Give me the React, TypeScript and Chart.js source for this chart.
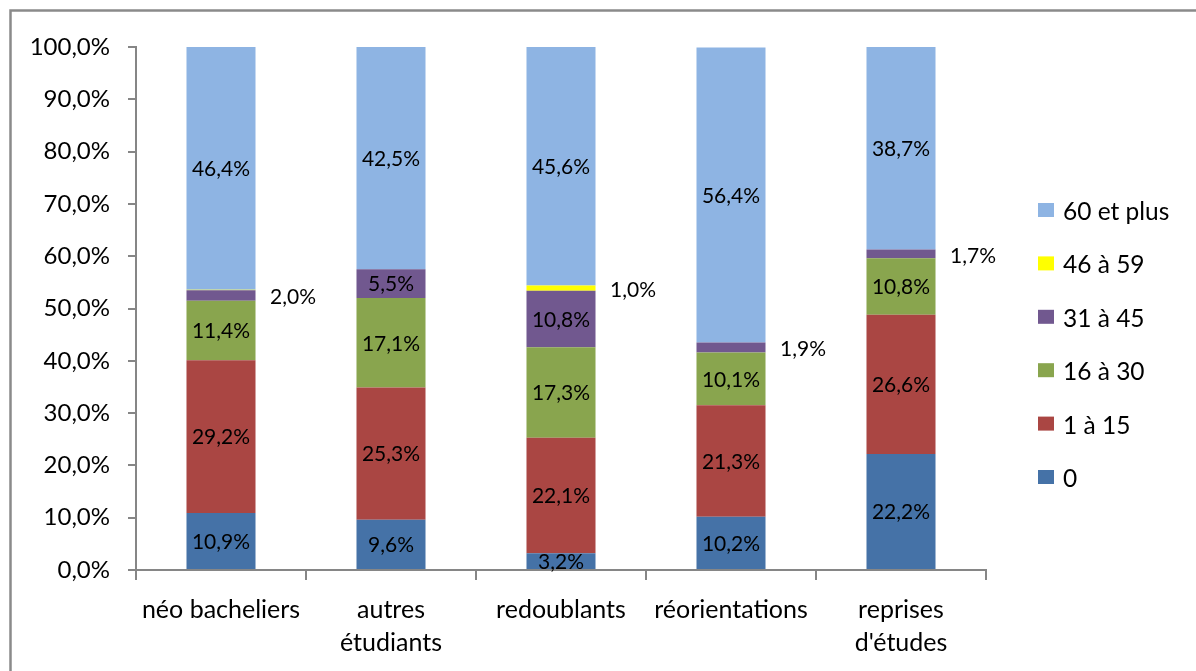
import React, { useEffect, useRef } from "react";
import Chart from "chart.js/auto";

const categories: (string | string[])[] = [
  "néo bacheliers",
  ["autres", "étudiants"],
  "redoublants",
  "réorientations",
  ["reprises", "d'études"],
];
const seriesNames = ["0", "1 à 15", "16 à 30", "31 à 45", "46 à 59", "60 et plus"];
const s0 = [10.9, 9.6, 3.2, 10.2, 22.2];
const s1to15 = [29.2, 25.3, 22.1, 21.3, 26.6];
const s16to30 = [11.4, 17.1, 17.3, 10.1, 10.8];
const s31to45 = [2.0, 5.5, 10.8, 1.9, 1.7];
const s46to59 = [0.1, 0, 1.0, 0, 0];
const s60plus = [46.4, 42.5, 45.6, 56.4, 38.7];
const yTicks = [0, 10, 20, 30, 40, 50, 60, 70, 80, 90, 100];

const colors = ["#4572A7", "#AA4643", "#89A54E", "#71588F", "#FFFF00", "#8EB4E3"];
const FONT = "Lato";
const fmt = (v: number) => v.toFixed(1).replace(".", ",") + "%";

export default function App() {
  const ref = useRef<HTMLCanvasElement>(null);
  useEffect(() => {
    const values = [s0, s1to15, s16to30, s31to45, s46to59, s60plus];
    const frame = {
      id: "frame",
      beforeDraw(chart: any) {
        const ctx = chart.ctx;
        ctx.save();
        ctx.fillStyle = "#fff";
        ctx.fillRect(0, 0, chart.width, chart.height);
        ctx.strokeStyle = "#8a8a8a";
        ctx.lineWidth = 2.5;
        ctx.strokeRect(10.5, 10.5, 1400, 900);
        ctx.restore();
      },
    };
    const labels = {
      id: "labels",
      afterDatasetsDraw(chart: any) {
        const ctx = chart.ctx;
        ctx.save();
        ctx.font = `21px ${FONT}`;
        ctx.fillStyle = "#000";
        ctx.textBaseline = "middle";
        ctx.textAlign = "center";
        chart.data.datasets.forEach((ds: any, i: number) => {
          const meta = chart.getDatasetMeta(i);
          meta.data.forEach((bar: any, j: number) => {
            const v = ds.data[j];
            if (v < 0.5) return;
            const cy = (bar.y + bar.base) / 2;
            if (v < 3 && i >= 3) {
              ctx.fillText(fmt(v), bar.x + 72, cy + 2);
            } else {
              ctx.fillText(fmt(v), bar.x, cy + 1);
            }
          });
        });
        ctx.restore();
      },
    };
    const legend = {
      id: "customLegend",
      afterDraw(chart: any) {
        const ctx = chart.ctx;
        ctx.save();
        ctx.font = `24.5px ${FONT}`;
        ctx.textBaseline = "middle";
        ctx.textAlign = "left";
        const n = chart.data.datasets.length;
        for (let k = 0; k < n; k++) {
          const ds = chart.data.datasets[n - 1 - k];
          const cy = 210 + k * 53.4;
          ctx.fillStyle = ds.backgroundColor;
          ctx.fillRect(1038, cy - 7, 16, 14);
          ctx.fillStyle = "#000";
          ctx.fillText(ds.label, 1063, cy + 2);
        }
        ctx.restore();
      },
    };
    const chart = new Chart(ref.current!, {
      type: "bar",
      data: {
        labels: categories,
        datasets: seriesNames.map((name, i) => ({
          label: name,
          data: values[i],
          backgroundColor: colors[i],
          borderWidth: 0,
          barPercentage: 0.406,
          categoryPercentage: 1,
        })),
      },
      options: {
        animation: false,
        responsive: false,
        layout: { padding: { left: 0, top: 47, right: 210, bottom: 0 } },
        plugins: { legend: { display: false }, tooltip: { enabled: false } },
        scales: {
          x: {
            stacked: true,
            afterFit: (s: any) => { s.height = 101; },
            grid: { drawOnChartArea: false, tickLength: 10, color: "#868686", lineWidth: 2, offset: true },
            border: { color: "#868686", width: 2 },
            ticks: { color: "#000", font: { family: FONT, size: 25, lineHeight: 1.32 }, padding: 13, maxRotation: 0, autoSkip: false },
          },
          y: {
            stacked: true,
            min: 0,
            max: 100,
            afterFit: (s: any) => { s.width = 136; },
            afterBuildTicks: (s: any) => { s.ticks = yTicks.map((v) => ({ value: v })); },
            grid: { drawOnChartArea: false, tickLength: 8, color: "#868686", lineWidth: 2 },
            border: { color: "#868686", width: 2 },
            ticks: { color: "#000", font: { family: FONT, size: 24 }, padding: 18, callback: (v: any) => fmt(Number(v)) },
          },
        },
      },
      plugins: [frame, labels, legend],
    });
    return () => chart.destroy();
  }, []);
  return (
    <div style={{ position: "fixed", left: 0, top: 0, width: 1196, height: 671, overflow: "hidden", background: "#fff" }}>
      <canvas ref={ref} width={1196} height={671} style={{ display: "block" }} />
    </div>
  );
}
